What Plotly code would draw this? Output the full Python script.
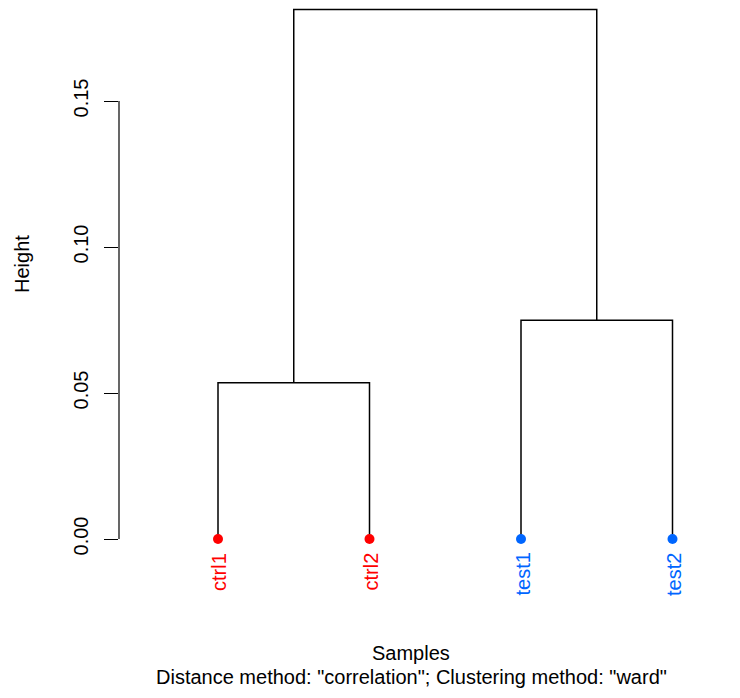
import plotly.graph_objects as go

# Leaves of the tree, in plotting order
labels = ["ctrl1", "ctrl2", "test1", "test2"]
leaf_colors = ["#FF0000", "#FF0000", "#0066FF", "#0066FF"]

# Merge steps: (left node, right node, height); negative ids are leaves (-1 = first leaf),
# positive ids refer to an earlier merge (1 = first merge)
merge_left = [-1, -3, 1]
merge_right = [-2, -4, 2]
merge_height = [0.0535, 0.0749, 0.1813]

# Axis ticks
y_ticks = [0.00, 0.05, 0.10, 0.15]
y_tick_text = ["0.00", "0.05", "0.10", "0.15"]

FONT = "Liberation Sans, Arial, Helvetica, sans-serif"

leaf_x = list(range(1, len(labels) + 1))


def node_pos(node, merged):
    if node < 0:
        return leaf_x[-node - 1], 0.0
    return merged[node - 1]


fig = go.Figure()
merged = []
seg_x, seg_y = [], []
for l, r, h in zip(merge_left, merge_right, merge_height):
    xl, yl = node_pos(l, merged)
    xr, yr = node_pos(r, merged)
    seg_x += [xl, xl, xr, xr, None]
    seg_y += [yl, h, h, yr, None]
    merged.append(((xl + xr) / 2, h))

fig.add_trace(go.Scatter(
    x=seg_x, y=seg_y, mode="lines",
    line=dict(color="black", width=1.5),
    hoverinfo="skip", showlegend=False, cliponaxis=False,
))

# Leaf points
fig.add_trace(go.Scatter(
    x=leaf_x, y=[0] * len(labels), mode="markers",
    marker=dict(color=leaf_colors, size=10),
    text=labels, hoverinfo="text", showlegend=False, cliponaxis=False,
))

# Leaf labels, rotated below the points
for x, lab, col in zip(leaf_x, labels, leaf_colors):
    fig.add_annotation(
        x=x, y=0, xref="x", yref="y", text=lab, textangle=-90,
        showarrow=False, xanchor="center", yanchor="top", yshift=-12, xshift=1,
        font=dict(family=FONT, size=20, color=col),
    )

# Axis line spanning only the tick range
fig.add_shape(
    type="line", xref="paper", yref="y", x0=0, x1=0,
    y0=y_ticks[0], y1=y_ticks[-1], line=dict(color="black", width=1.2),
)

# Plot-area geometry (pixels)
W, H = 740, 698
left, right, top, bottom = 119, 720, 5, 560
px_per_leaf = 151.5
px_per_unit = 146 / 0.05
x0_val = 1 - (218 - left) / px_per_leaf
x1_val = 1 + (right - 218) / px_per_leaf
y_top = (539 - top) / px_per_unit
y_bot = (539 - bottom) / px_per_unit

plot_w = right - left
plot_h = bottom - top

fig.add_annotation(
    x=(411 - left) / plot_w, y=(bottom - 653) / plot_h, xref="paper", yref="paper",
    text="Samples", showarrow=False, xanchor="center", yanchor="middle",
    font=dict(family=FONT, size=20, color="black"),
)
fig.add_annotation(
    x=(411 - left) / plot_w, y=(bottom - 677) / plot_h, xref="paper", yref="paper",
    text='Distance method: "correlation"; Clustering method: "ward"',
    showarrow=False, xanchor="center", yanchor="middle",
    font=dict(family=FONT, size=20, color="black"),
)
fig.add_annotation(
    x=(22 - left) / plot_w, y=(bottom - 264) / plot_h, xref="paper", yref="paper",
    text="Height", textangle=-90, showarrow=False, xanchor="center", yanchor="middle",
    font=dict(family=FONT, size=20, color="black"),
)

fig.update_layout(
    width=W, height=H,
    margin=dict(l=left, r=W - right, t=top, b=H - bottom, pad=0),
    paper_bgcolor="white", plot_bgcolor="white",
    xaxis=dict(range=[x0_val, x1_val], visible=False, fixedrange=True),
    yaxis=dict(
        range=[y_bot, y_top], showgrid=False, zeroline=False, showline=False,
        tickmode="array", tickvals=y_ticks, ticktext=y_tick_text,
        ticks="outside", ticklen=14, tickwidth=1.2, tickcolor="black",
        tickangle=-90, tickfont=dict(family=FONT, size=20, color="black"),
        ticklabelstandoff=8, fixedrange=True,
    ),
    font=dict(family=FONT),
)

fig.write_html("out.html")
